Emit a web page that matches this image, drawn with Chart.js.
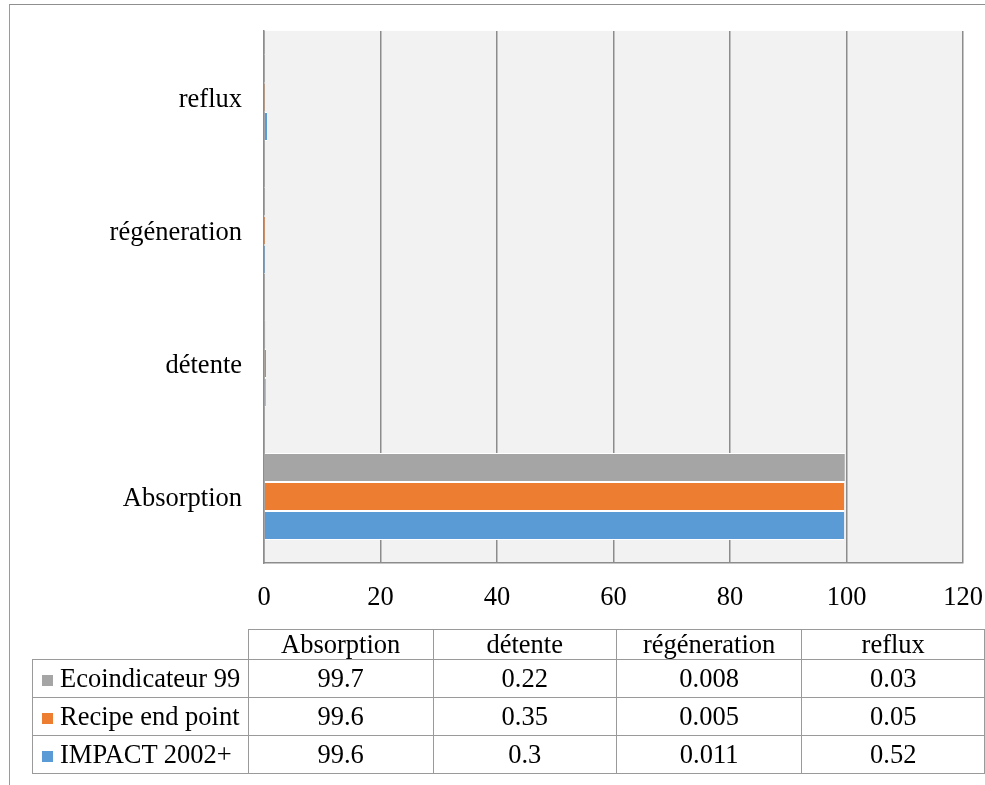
<!DOCTYPE html>
<html><head><meta charset="utf-8">
<script src="https://cdn.jsdelivr.net/npm/chart.js@4.4.1/dist/chart.umd.min.js"></script>
<style>
html,body{margin:0;padding:0;background:#fff;overflow:hidden;width:985px;height:785px;}
#wrap{position:relative;width:985px;height:785px;overflow:hidden;}
#frame{position:absolute;left:9px;top:4px;width:1100px;height:900px;border-top:1px solid #8f8f8f;border-left:1.5px solid #9a9a9a;}
canvas{position:absolute;left:0;top:-7px;}
#tbl{position:absolute;left:32px;top:629px;border-collapse:collapse;table-layout:fixed;font-family:'Liberation Serif','Times New Roman',serif;font-size:26.5px;color:#000;}
#tbl td,#tbl th{border:1.5px solid #9a9a9a;padding:0;font-weight:normal;text-align:center;white-space:nowrap;overflow:hidden;line-height:1;}
#tbl th.corner{border-top:none;border-left:none;}
#tbl td.lab{text-align:left;padding-left:9px;}
#tbl .sq{display:inline-block;width:11px;height:11px;margin-right:7px;vertical-align:1px;}
</style>
</head><body>
<div id="wrap">
<div id="frame"></div>
<canvas id="c" width="1002" height="792"></canvas>
<table id="tbl"></table>
</div>
<script>
// ---- data ----
const categories = ['Absorption', 'détente', 'régéneration', 'reflux'];
const seriesNames = ['Ecoindicateur 99', 'Recipe end point', 'IMPACT 2002+'];
const ecoindicateur99 = [99.7, 0.22, 0.008, 0.03];
const recipeEndPoint = [99.6, 0.35, 0.005, 0.05];
const impact2002 = [99.6, 0.3, 0.011, 0.52];
const xTicks = [0, 20, 40, 60, 80, 100, 120];

// ---- styles ----
const seriesColors = ['#a5a5a5', '#ed7d31', '#5b9bd5'];
const seriesValues = [ecoindicateur99, recipeEndPoint, impact2002];

Chart.defaults.font.family = "'Liberation Serif', 'Times New Roman', serif";
Chart.defaults.font.size = 26.5;
Chart.defaults.color = '#000';

const plotBg = {
  id: 'plotBg',
  beforeDraw(chart) {
    const {ctx, chartArea: a} = chart;
    ctx.save();
    ctx.fillStyle = '#f2f2f2';
    ctx.fillRect(a.left, a.top, a.right - a.left, a.bottom - a.top);
    ctx.restore();
  }
};

const chartLabels = categories.slice().reverse();
new Chart(document.getElementById('c'), {
  type: 'bar',
  data: {
    labels: chartLabels,
    datasets: seriesValues.map((vals, i) => ({
      label: seriesNames[i],
      data: vals.slice().reverse(),
      backgroundColor: seriesColors[i],
      borderColor: '#ffffff',
      borderWidth: {top: 1, bottom: 1, right: 0, left: 0},
      borderSkipped: false,
      categoryPercentage: 0.655,
      barPercentage: 1
    }))
  },
  options: {
    indexAxis: 'y',
    responsive: false,
    animation: false,
    devicePixelRatio: 1,
    layout: {padding: {top: 24, right: 7, bottom: 162, left: 0}},
    plugins: {legend: {display: false}, tooltip: {enabled: false}},
    scales: {
      x: {
        type: 'linear',
        min: xTicks[0],
        max: xTicks[xTicks.length - 1],
        afterBuildTicks: (s) => { s.ticks = xTicks.map(v => ({value: v})); },
        afterFit: (s) => { s.height = 60; },
        grid: {color: '#8c8c8c', lineWidth: 1.5, drawTicks: false},
        border: {display: true, color: '#8c8c8c', width: 1.5},
        ticks: {padding: 19, color: '#000'}
      },
      y: {
        afterFit: (s) => { s.width = 264; },
        grid: {display: false, drawTicks: false},
        border: {display: true, color: '#8c8c8c', width: 1.5},
        ticks: {padding: 22, color: '#000', labelOffset: 3}
      }
    }
  },
  plugins: [plotBg]
});

// ---- data table built from the arrays ----
const tbl = document.getElementById('tbl');
const cg = document.createElement('colgroup');
[216, 188, 188, 188, 188].forEach(w => { const c = document.createElement('col'); c.style.width = w + 'px'; cg.appendChild(c); });
tbl.appendChild(cg);
const hr = document.createElement('tr');
hr.style.height = '30px';
const corner = document.createElement('th'); corner.className = 'corner'; hr.appendChild(corner);
categories.forEach(cat => { const th = document.createElement('th'); th.textContent = cat; hr.appendChild(th); });
tbl.appendChild(hr);
seriesNames.forEach((name, i) => {
  const tr = document.createElement('tr');
  tr.style.height = '38px';
  const lab = document.createElement('td'); lab.className = 'lab';
  const sq = document.createElement('span'); sq.className = 'sq'; sq.style.background = seriesColors[i];
  lab.appendChild(sq); lab.appendChild(document.createTextNode(name));
  tr.appendChild(lab);
  seriesValues[i].forEach(v => { const td = document.createElement('td'); td.textContent = String(v); tr.appendChild(td); });
  tbl.appendChild(tr);
});
</script>
</body></html>
